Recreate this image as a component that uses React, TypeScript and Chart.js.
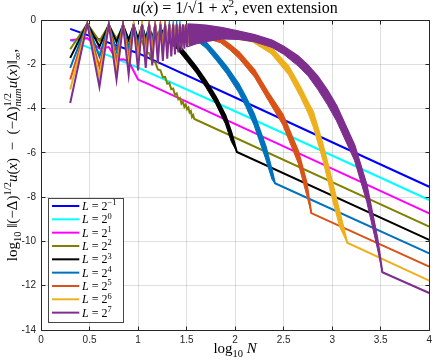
import React, { useEffect, useRef } from 'react';
import { Chart, registerables } from 'chart.js';

Chart.register(...registerables);

// ---------------- data ----------------
const EXPONENTS = ['−1', '0', '1', '2', '3', '4', '5', '6', '7'];
const COLORS = ['#0000FF', '#00FFFF', '#FF00FF', '#808000', '#000000', '#0072BD', '#D95319', '#EDB120', '#7E2F8E'];

const X_TICKS = [0, 0.5, 1, 1.5, 2, 2.5, 3, 3.5, 4];
const Y_TICKS = [-14, -12, -10, -8, -6, -4, -2, 0];

// L = 2^-1
const blueX = [0.301, 1.0, 2.0, 3.0, 4.0];
const blueY = [-0.40, -1.50, -3.50, -5.52, -7.53];
// L = 2^0
const cyanX = [0.301, 1.0, 2.0, 3.0, 4.0];
const cyanY = [-0.91, -2.15, -4.12, -6.12, -8.13];
// L = 2^1
const magentaN = [2, 3, 4, 5, 6, 7, 8, 9, 10, 11, 12];
const magentaY = [-0.91, -0.82, -1.30, -1.22, -1.79, -1.77, -1.86, -2.30, -2.69, -2.77, -2.84];
const magentaEndX = [4.0];
const magentaEndY = [-8.73];
// L = 2^2
const oliveN = [2, 3, 4, 5, 6, 7, 8, 9, 10, 11, 12, 13, 14, 15, 16, 17, 18, 19, 20, 21, 22, 23, 24, 25, 26, 27, 28, 29, 30, 31, 32, 33, 34, 35, 36, 37, 38];
const oliveY = [-1.32, -0.17, -0.95, -0.24, -0.85, -0.30, -0.85, -0.40, -1.00, -0.95, -1.43, -1.50, -1.88, -1.90, -2.23, -2.27, -2.58, -2.57, -2.88, -2.85, -3.13, -3.10, -3.38, -3.32, -3.58, -3.52, -3.78, -3.70, -3.93, -3.82, -4.03, -3.95, -4.18, -4.12, -4.38, -4.30, -4.47];
const oliveEndX = [4.0];
const oliveEndY = [-9.33];
// L = 2^3
const blackN = [2, 3, 4, 5, 6, 7, 8, 9, 10, 11, 12, 13, 14, 15, 16];
const blackY = [-1.71, -0.17, -1.20, -0.21, -1.00, -0.22, -0.90, -0.23, -0.85, -0.25, -0.83, -0.28, -0.83, -0.31, -0.85];
const blackUpX = [1.23, 1.30, 1.40, 1.50, 1.60, 1.70, 1.80, 1.90, 1.96, 2.018];
const blackUpY = [-0.42, -0.64, -1.04, -1.56, -2.11, -2.75, -3.46, -4.31, -5.06, -5.96];
const blackLoX = [1.204, 1.30, 1.40, 1.50, 1.60, 1.70, 1.80, 1.90, 1.96, 2.018];
const blackLoY = [-0.85, -0.96, -1.30, -1.84, -2.39, -3.05, -3.78, -4.69, -5.48, -5.96];
const blackEndX = [4.0];
const blackEndY = [-9.93];
// shared N for the long zigzags
const zigN = [2, 3, 4, 5, 6, 7, 8, 9, 10, 11, 12, 13, 14, 15, 16, 17, 18, 19, 20, 21, 22, 23, 24, 25, 26, 27, 28, 29, 30, 31, 32];
// L = 2^4
const blue2Y = [-2.16, -0.17, -1.65, -0.21, -1.40, -0.21, -1.26, -0.21, -1.16, -0.22, -1.08, -0.22, -1.02, -0.22, -0.98, -0.23, -0.95, -0.23, -0.93, -0.24, -0.92, -0.25, -0.92, -0.26, -0.93, -0.27, -0.95, -0.28, -0.98, -0.29, -1.02];
const blue2UpX = [1.519, 1.60, 1.70, 1.80, 1.91, 2.035, 2.11, 2.195, 2.315, 2.38, 2.41];
const blue2UpY = [-0.30, -0.62, -1.01, -1.51, -2.09, -2.88, -3.49, -4.25, -5.72, -6.82, -7.37];
const blue2LoX = [1.505, 1.60, 1.70, 1.80, 1.91, 2.035, 2.11, 2.195, 2.315, 2.38, 2.41];
const blue2LoY = [-1.02, -0.92, -1.27, -1.79, -2.41, -3.26, -3.91, -4.75, -6.28, -7.20, -7.37];
const blue2EndX = [4.0];
const blue2EndY = [-10.54];
// L = 2^5
const orangeY = [-2.69, -0.17, -2.12, -0.21, -1.84, -0.21, -1.66, -0.21, -1.53, -0.21, -1.43, -0.21, -1.35, -0.21, -1.28, -0.22, -1.22, -0.22, -1.17, -0.22, -1.12, -0.23, -1.08, -0.23, -1.05, -0.24, -1.02, -0.25, -1.00, -0.26, -0.98];
const orangeUpX = [1.519, 1.70, 1.85, 1.95, 2.04, 2.20, 2.34, 2.49, 2.65, 2.735, 2.785];
const orangeUpY = [-0.28, -0.58, -0.81, -1.13, -1.46, -2.26, -3.28, -4.27, -5.93, -7.33, -8.72];
const orangeLoX = [1.505, 1.70, 1.85, 1.95, 2.04, 2.20, 2.34, 2.49, 2.65, 2.735, 2.785];
const orangeLoY = [-0.98, -0.82, -1.03, -1.37, -1.74, -2.58, -3.62, -4.73, -6.47, -7.87, -8.72];
const orangeEndX = [4.0];
const orangeEndY = [-11.14];
// L = 2^6
const yellowY = [-3.14, -0.17, -2.55, -0.21, -2.25, -0.21, -2.05, -0.21, -1.90, -0.21, -1.78, -0.21, -1.68, -0.21, -1.60, -0.21, -1.52, -0.21, -1.45, -0.21, -1.38, -0.21, -1.32, -0.21, -1.26, -0.22, -1.20, -0.22, -1.15, -0.23, -1.10];
const yellowUpX = [1.519, 1.75, 1.94, 2.17, 2.37, 2.55, 2.67, 2.755, 2.805, 2.905, 2.99, 3.078, 3.155];
const yellowUpY = [-0.23, -0.36, -0.54, -0.75, -1.24, -2.09, -3.01, -3.76, -4.17, -5.66, -7.14, -8.70, -10.06];
const yellowLoX = [1.505, 1.75, 1.94, 2.17, 2.37, 2.55, 2.67, 2.755, 2.805, 2.905, 2.99, 3.078, 3.155];
const yellowLoY = [-1.10, -0.90, -0.82, -0.97, -1.52, -2.47, -3.45, -4.24, -4.83, -6.34, -7.90, -9.36, -10.06];
const yellowEndX = [4.0];
const yellowEndY = [-11.77];
// L = 2^7
const purpleY = [-3.75, -0.17, -3.02, -0.20, -2.69, -0.20, -2.47, -0.20, -2.28, -0.20, -2.16, -0.20, -2.05, -0.20, -1.95, -0.20, -1.85, -0.20, -1.75, -0.20, -1.65, -0.20, -1.56, -0.20, -1.47, -0.20, -1.38, -0.20, -1.30, -0.20, -1.22];
const purpleUpX = [1.519, 1.60, 1.70, 1.87, 2.04, 2.20, 2.38, 2.50, 2.65, 2.75, 2.85, 2.95, 3.045, 3.23, 3.355, 3.465, 3.517];
const purpleUpY = [-0.20, -0.22, -0.25, -0.36, -0.52, -0.68, -0.92, -1.20, -1.64, -2.05, -2.55, -3.18, -3.88, -5.66, -7.45, -9.85, -11.39];
const purpleLoX = [1.505, 1.60, 1.70, 1.87, 2.04, 2.20, 2.38, 2.50, 2.65, 2.75, 2.85, 2.95, 3.045, 3.23, 3.355, 3.465, 3.517];
const purpleLoY = [-1.22, -1.08, -0.98, -0.86, -0.88, -0.99, -1.24, -1.55, -2.08, -2.52, -3.13, -3.82, -4.56, -6.34, -8.19, -10.31, -11.39];
const purpleEndX = [4.0];
const purpleEndY = [-12.33];

type Series = {
  exp: string; color: string;
  zigN: number[]; zigY: number[];
  upX: number[]; upY: number[];
  loX: number[]; loY: number[];
  endX: number[]; endY: number[];
};

const SERIES: Series[] = [
  { exp: EXPONENTS[0], color: COLORS[0], zigN: [], zigY: [], upX: blueX, upY: blueY, loX: [], loY: [], endX: [], endY: [] },
  { exp: EXPONENTS[1], color: COLORS[1], zigN: [], zigY: [], upX: cyanX, upY: cyanY, loX: [], loY: [], endX: [], endY: [] },
  { exp: EXPONENTS[2], color: COLORS[2], zigN: magentaN, zigY: magentaY, upX: [], upY: [], loX: [], loY: [], endX: magentaEndX, endY: magentaEndY },
  { exp: EXPONENTS[3], color: COLORS[3], zigN: oliveN, zigY: oliveY, upX: [], upY: [], loX: [], loY: [], endX: oliveEndX, endY: oliveEndY },
  { exp: EXPONENTS[4], color: COLORS[4], zigN: blackN, zigY: blackY, upX: blackUpX, upY: blackUpY, loX: blackLoX, loY: blackLoY, endX: blackEndX, endY: blackEndY },
  { exp: EXPONENTS[5], color: COLORS[5], zigN: zigN, zigY: blue2Y, upX: blue2UpX, upY: blue2UpY, loX: blue2LoX, loY: blue2LoY, endX: blue2EndX, endY: blue2EndY },
  { exp: EXPONENTS[6], color: COLORS[6], zigN: zigN, zigY: orangeY, upX: orangeUpX, upY: orangeUpY, loX: orangeLoX, loY: orangeLoY, endX: orangeEndX, endY: orangeEndY },
  { exp: EXPONENTS[7], color: COLORS[7], zigN: zigN, zigY: yellowY, upX: yellowUpX, upY: yellowUpY, loX: yellowLoX, loY: yellowLoY, endX: yellowEndX, endY: yellowEndY },
  { exp: EXPONENTS[8], color: COLORS[8], zigN: zigN, zigY: purpleY, upX: purpleUpX, upY: purpleUpY, loX: purpleLoX, loY: purpleLoY, endX: purpleEndX, endY: purpleEndY },
];

// ---------------- text helpers ----------------
type Run = { t: string; i?: boolean; pos?: 'sup' | 'sub'; ov?: boolean; hold?: boolean };

const SERIF = '"Liberation Serif", "DejaVu Serif", serif';
const SANS = '"Liberation Sans", Arial, sans-serif';
const AXIS_COLOR = '#262626';

const TITLE_RUNS: Run[] = [
  { t: 'u', i: true }, { t: '(' }, { t: 'x', i: true }, { t: ') = 1/√' },
  { t: '1 + ', ov: true }, { t: 'x', i: true, ov: true }, { t: '2', pos: 'sup', ov: true },
  { t: ', even extension' },
];
const X_TITLE_RUNS: Run[] = [{ t: 'log' }, { t: '10', pos: 'sub' }, { t: ' ' }, { t: 'N', i: true }];
const Y_TITLE_RUNS: Run[] = [
  { t: 'log' }, { t: '10', pos: 'sub' }, { t: ' ‖(−Δ)' }, { t: '1/2', pos: 'sup' },
  { t: 'u', i: true }, { t: '(' }, { t: 'x', i: true }, { t: ')  −  (−Δ)' },
  { t: '1/2', pos: 'sup', hold: true }, { t: 'num', pos: 'sub', i: true },
  { t: 'u', i: true }, { t: '(' }, { t: 'x', i: true }, { t: ')‖' }, { t: '∞', pos: 'sub' }, { t: ',' },
];

function runFont(r: Run, size: number) {
  const s = r.pos ? size * 0.7 : size;
  return `${r.i ? 'italic ' : ''}${s}px ${SERIF}`;
}

function drawRuns(ctx: CanvasRenderingContext2D, runs: Run[], x: number, y: number, size: number, align: 'center' | 'left') {
  const items: { r: Run; x: number; w: number }[] = [];
  let adv = 0;
  let held = 0;
  for (const r of runs) {
    ctx.font = runFont(r, size);
    const w = ctx.measureText(r.t).width;
    items.push({ r, x: adv, w });
    if (r.hold) held = w;
    else { adv += Math.max(w, held); held = 0; }
  }
  const x0 = align === 'center' ? x - adv / 2 : x;
  ctx.textAlign = 'left';
  ctx.textBaseline = 'alphabetic';
  for (const it of items) {
    ctx.font = runFont(it.r, size);
    const dy = it.r.pos === 'sup' ? -size * 0.38 : it.r.pos === 'sub' ? size * 0.24 : 0;
    ctx.fillText(it.r.t, x0 + it.x, y + dy);
    if (it.r.ov) ctx.fillRect(x0 + it.x, y - size * 0.86, it.w, Math.max(0.8, size * 0.05));
  }
}

function align1(p: number) {
  return Math.round(p - 0.5) + 0.5;
}

const overlayPlugin = {
  id: 'overlay',
  afterDraw(chart: any) {
    const ctx: CanvasRenderingContext2D = chart.ctx;
    const { left, right, top, bottom } = chart.chartArea;
    const xs = chart.scales.x;
    const ys = chart.scales.y;
    ctx.save();
    // frame
    ctx.strokeStyle = AXIS_COLOR;
    ctx.lineWidth = 1;
    const L = align1(left), R = align1(right), T = align1(top), B = align1(bottom);
    ctx.beginPath();
    ctx.rect(L, T, R - L, B - T);
    ctx.stroke();
    // inward tick marks
    ctx.beginPath();
    for (const v of X_TICKS) {
      const px = align1(xs.getPixelForValue(v));
      ctx.moveTo(px, B); ctx.lineTo(px, B - 4);
      ctx.moveTo(px, T); ctx.lineTo(px, T + 4);
    }
    for (const v of Y_TICKS) {
      const py = align1(ys.getPixelForValue(v));
      ctx.moveTo(L, py); ctx.lineTo(L + 4, py);
      ctx.moveTo(R, py); ctx.lineTo(R - 4, py);
    }
    ctx.stroke();

    // titles
    ctx.fillStyle = '#000';
    const cx = (left + right) / 2;
    drawRuns(ctx, TITLE_RUNS, cx, 13, 16, 'center');
    drawRuns(ctx, X_TITLE_RUNS, cx, 353, 15, 'center');
    ctx.save();
    ctx.translate(17, 155);
    ctx.rotate(-Math.PI / 2);
    drawRuns(ctx, Y_TITLE_RUNS, 0, 0, 15, 'center');
    ctx.restore();

    // legend
    const bw = 75;
    const bh = 124.4;
    const bx = left + 7;
    const by = bottom - 7.3 - bh;
    ctx.fillStyle = '#fff';
    ctx.fillRect(bx, by, bw, bh);
    ctx.strokeStyle = 'rgba(38,38,38,0.85)';
    ctx.lineWidth = 1;
    ctx.strokeRect(align1(bx), align1(by), Math.round(bw), Math.round(bh));
    SERIES.forEach((s, k) => {
      const cy = by + 7.7 + k * 13.33;
      ctx.strokeStyle = s.color;
      ctx.lineWidth = 2;
      ctx.beginPath();
      ctx.moveTo(bx + 4, cy);
      ctx.lineTo(bx + 31.3, cy);
      ctx.stroke();
      ctx.fillStyle = '#000';
      drawRuns(ctx, [{ t: 'L', i: true }, { t: ' = 2' }, { t: s.exp, pos: 'sup' }], bx + 34, cy + 4, 12, 'left');
    });
    ctx.restore();
  },
};

function pts(xs: number[], ys: number[]) {
  return xs.map((x, i) => ({ x, y: ys[i] }));
}

function buildDatasets() {
  const datasets: any[] = [];
  const base = { showLine: true, pointRadius: 0, pointHoverRadius: 0, tension: 0, fill: false };
  [...SERIES].reverse().forEach((s) => {
    const main = [
      ...s.zigN.map((n, i) => ({ x: Math.log10(n), y: s.zigY[i] })),
      ...pts(s.upX, s.upY),
      ...pts(s.endX, s.endY),
    ];
    datasets.push({ ...base, data: main, borderColor: s.color, backgroundColor: s.color, borderWidth: 2 });
    if (s.loX.length) {
      const loIndex = datasets.length + 1;
      datasets.push({ ...base, data: pts(s.upX, s.upY), borderColor: s.color, backgroundColor: s.color, borderWidth: 1, fill: loIndex });
      datasets.push({ ...base, data: pts(s.loX, s.loY), borderColor: s.color, backgroundColor: s.color, borderWidth: 1 });
    }
  });
  return datasets;
}

export default function App() {
  const ref = useRef<HTMLCanvasElement | null>(null);
  useEffect(() => {
    if (!ref.current) return;
    const gridColor = 'rgba(38,38,38,0.15)';
    const tickFont = { family: SANS, size: 10 };
    const chart = new Chart(ref.current, {
      type: 'scatter',
      data: { datasets: buildDatasets() },
      options: {
        animation: false,
        responsive: false,
        devicePixelRatio: 1,
        layout: { padding: { top: 20, right: 3, left: 0, bottom: 0 } },
        plugins: {
          legend: { display: false },
          title: { display: false },
          tooltip: { enabled: false },
        },
        scales: {
          x: {
            type: 'linear',
            min: Math.min(...X_TICKS),
            max: Math.max(...X_TICKS),
            afterBuildTicks: (scale: any) => { scale.ticks = X_TICKS.map((v) => ({ value: v })); },
            afterFit: (scale: any) => { scale.height = 32; },
            grid: { color: gridColor, lineWidth: 1, drawTicks: false },
            border: { display: false },
            ticks: { padding: 4, font: tickFont, color: AXIS_COLOR, maxRotation: 0, autoSkip: false, callback: (v: any) => String(v) },
          },
          y: {
            type: 'linear',
            min: Math.min(...Y_TICKS),
            max: Math.max(...Y_TICKS),
            afterBuildTicks: (scale: any) => { scale.ticks = Y_TICKS.map((v) => ({ value: v })); },
            afterFit: (scale: any) => { scale.width = 41; },
            grid: { color: gridColor, lineWidth: 1, drawTicks: false },
            border: { display: false },
            ticks: { padding: 5, font: tickFont, color: AXIS_COLOR, autoSkip: false, callback: (v: any) => String(v) },
          },
        },
      } as any,
      plugins: [overlayPlugin],
    });
    return () => chart.destroy();
  }, []);
  return (
    <div style={{ position: 'fixed', left: 0, top: 0, width: 436, height: 362, background: '#fff' }}>
      <canvas ref={ref} width={436} height={362} style={{ display: 'block' }} />
    </div>
  );
}
